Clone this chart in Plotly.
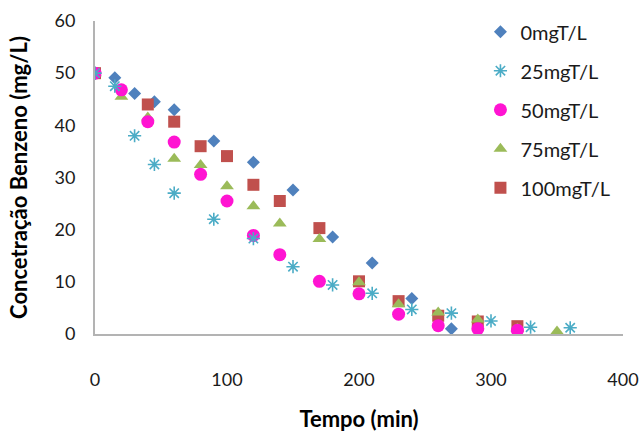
import plotly.graph_objects as go

# Benzene concentration (mg/L) over time (min) for each TiO2 dose
t_0 = [0, 15, 30, 45, 60, 90, 120, 150, 180, 210, 240, 270]
c_0 = [50, 49.1, 46.1, 44.5, 43.0, 37.0, 32.9, 27.6, 18.6, 13.6, 6.8, 1.0]

t_25 = [0, 15, 30, 45, 60, 90, 120, 150, 180, 210, 240, 270, 300, 330, 360]
c_25 = [50, 47.5, 38.0, 32.5, 27.0, 22.0, 18.3, 12.9, 9.4, 7.8, 4.7, 4.0, 2.5, 1.3, 1.2]

t_50 = [0, 20, 40, 60, 80, 100, 120, 140, 170, 200, 230, 260, 290, 320]
c_50 = [50, 46.8, 40.7, 36.8, 30.6, 25.5, 18.9, 15.2, 10.1, 7.7, 3.8, 1.6, 1.0, 0.7]

t_75 = [0, 20, 40, 60, 80, 100, 120, 140, 170, 200, 230, 260, 290, 320, 350]
c_75 = [50, 45.5, 41.5, 33.6, 32.4, 28.3, 24.5, 21.2, 18.2, 9.9, 5.7, 4.1, 2.8, 1.0, 0.5]

t_100 = [0, 40, 60, 80, 100, 120, 140, 170, 200, 230, 260, 290, 320]
c_100 = [50, 44.0, 40.7, 36.0, 34.1, 28.6, 25.5, 20.3, 10.1, 6.3, 3.5, 2.4, 1.5]

# name, x, y, symbol, colour, size, legend rank (draw order: 0, 100, 75, 50, 25)
series = [
    ("0mgT/L", t_0, c_0, "diamond", "#4F81BD", 10, 1),
    ("100mgT/L", t_100, c_100, "square", "#C0504D", 12, 5),
    ("75mgT/L", t_75, c_75, "triangle-up", "#9BBB59", 12, 4),
    ("50mgT/L", t_50, c_50, "circle", "#FF14D2", 13, 3),
    ("25mgT/L", t_25, c_25, "asterisk-open", "#4BACC6", 11, 2),
]

fig = go.Figure()
for name, xs, ys, sym, col, size, rank in series:
    marker = dict(symbol=sym, color=col, size=size)
    if sym.endswith("open"):
        marker["line"] = dict(color=col, width=1.6)
    else:
        marker["line"] = dict(width=0)
    fig.add_trace(go.Scatter(
        x=xs, y=ys, mode="markers", name=name, marker=marker,
        legendgroup=name, legendrank=rank,
    ))

family = "Lato, 'Open Sans', sans-serif"
tick_font = dict(family=family, size=18, color="#1a1a1a")
title_font = dict(family=family, size=22, color="#000000", weight="bold")

fig.update_layout(
    width=642, height=432,
    margin=dict(l=95, r=19, t=16, b=98),
    paper_bgcolor="white", plot_bgcolor="white",
    showlegend=True,
    legend=dict(
        x=0.73, y=1.028, xanchor="left", yanchor="top",
        font=dict(family=family, size=20, color="#1a1a1a"),
        tracegroupgap=10, bgcolor="rgba(0,0,0,0)", itemwidth=30,
    ),
    xaxis=dict(
        range=[0, 400], tickvals=[0, 100, 200, 300, 400],
        showgrid=False, zeroline=False, showline=True,
        linecolor="#b3b3b3", linewidth=2, ticks="",
        tickfont=tick_font, ticklabelstandoff=28, automargin=False,
        title=dict(text="Tempo (min)", font=title_font, standoff=24),
    ),
    yaxis=dict(
        range=[0, 60], tickvals=[0, 10, 20, 30, 40, 50, 60],
        showgrid=False, zeroline=False, showline=True,
        linecolor="#b3b3b3", linewidth=2, ticks="",
        tickfont=tick_font, ticklabelstandoff=14, automargin=False,
        title=dict(text="Concetração Benzeno (mg/L)", font=title_font, standoff=21),
    ),
)

fig.write_html("out.html")
